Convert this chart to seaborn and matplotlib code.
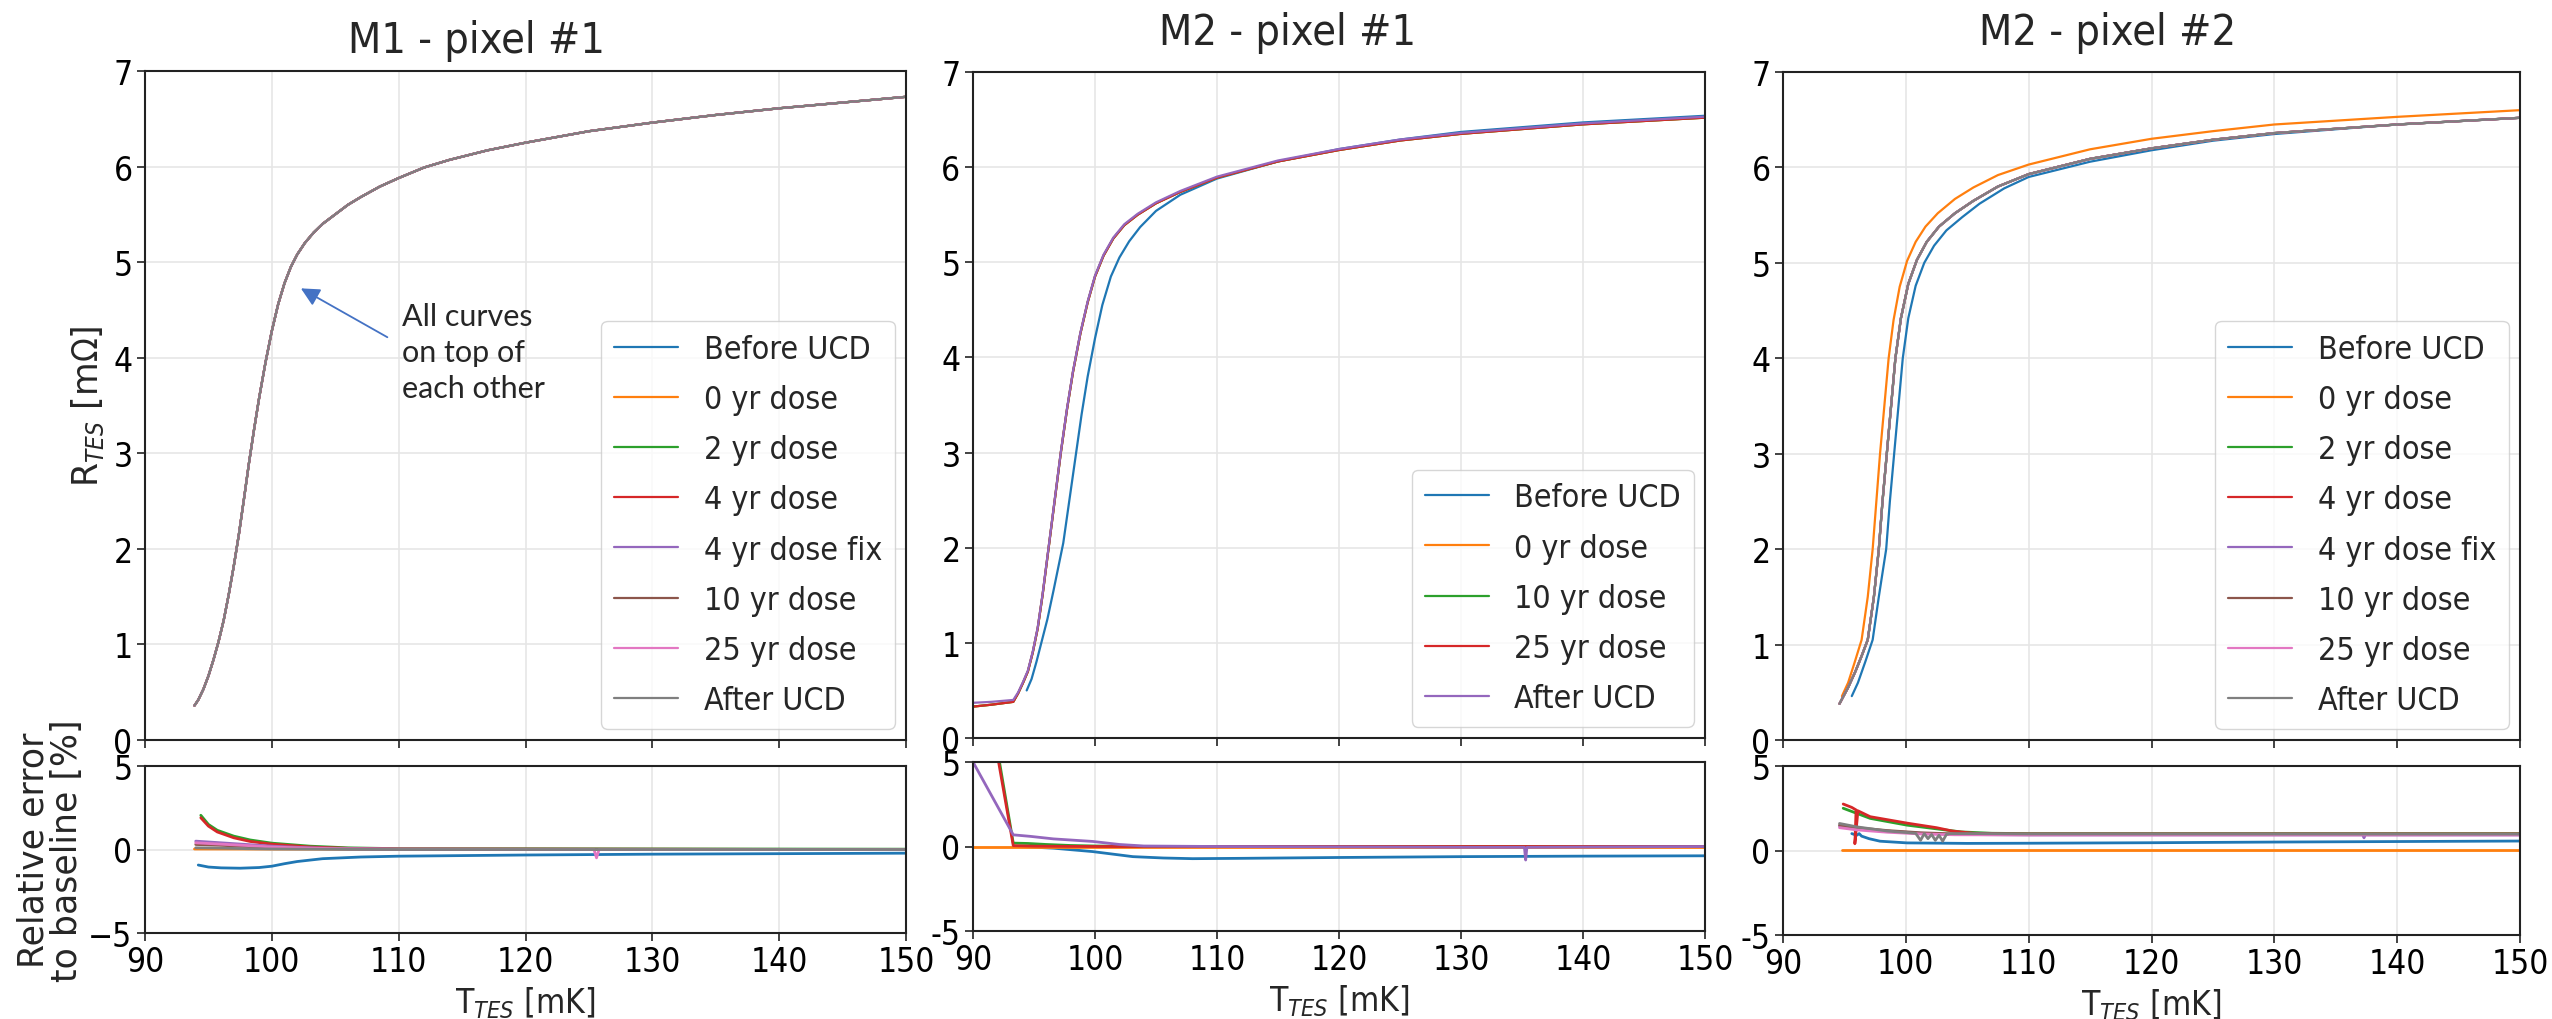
import numpy as np
import pandas as pd
import seaborn as sns
import matplotlib
matplotlib.use('Agg')
import matplotlib.pyplot as plt

sns.set_theme(style='whitegrid')
plt.rcParams['font.family'] = ['DejaVu Sans']
plt.rcParams['font.stretch'] = 'condensed'
plt.rcParams['mathtext.fontset'] = 'dejavusans'

pal = sns.color_palette('tab10')

# ---- Date: M1 - pixel #1 (toate curbele suprapuse) ----
labels_m1 = ['Before UCD', '0 yr dose', '2 yr dose', '4 yr dose', '4 yr dose fix',
             '10 yr dose', '25 yr dose', 'After UCD']
t_m1 = [93.9, 94.2, 94.6, 95.0, 95.4, 95.8, 96.2, 96.6, 97.0, 97.4, 97.8, 98.2, 98.6, 99.0,
        99.5, 100.0, 100.5, 101.0, 101.5, 102.0, 102.6, 103.3, 104.0, 105.0, 106.0, 107.0,
        108.5, 110.0, 112.0, 114.0, 117.0, 120.0, 125.0, 130.0, 135.0, 140.0, 145.0, 150.0]
r_m1 = [0.36, 0.42, 0.53, 0.67, 0.84, 1.03, 1.25, 1.52, 1.82, 2.15, 2.52, 2.90, 3.25, 3.58,
        3.95, 4.28, 4.56, 4.78, 4.95, 5.08, 5.20, 5.31, 5.40, 5.50, 5.60, 5.68,
        5.79, 5.88, 5.99, 6.07, 6.17, 6.25, 6.37, 6.46, 6.54, 6.61, 6.67, 6.73]

e1_before_t = [94.2, 95.0, 96.0, 97.5, 99.0, 100.0, 101.0, 102.0, 104.0, 107.0, 110.0, 120.0, 130.0, 140.0, 150.0]
e1_before = [-0.93, -1.05, -1.10, -1.12, -1.08, -1.00, -0.85, -0.72, -0.55, -0.45, -0.40, -0.33, -0.28, -0.25, -0.22]
e1_0yr_t = [93.9, 150.0]
e1_0yr = [0.03, 0.0]
e1_dose_t = [94.4, 95.0, 95.7, 97.0, 98.3, 100.0, 103.0, 106.0, 110.0, 150.0]
e1_2yr = [2.05, 1.50, 1.15, 0.80, 0.57, 0.38, 0.20, 0.10, 0.05, 0.02]
e1_4yr = [1.90, 1.40, 1.05, 0.70, 0.48, 0.32, 0.15, 0.07, 0.03, 0.0]
e1_small_t = [94.0, 96.0, 98.0, 100.0, 103.0, 106.0, 110.0, 150.0]
e1_4fix = [0.50, 0.40, 0.30, 0.20, 0.10, 0.05, 0.02, 0.0]
e1_10yr = [0.30, 0.25, 0.18, 0.12, 0.06, 0.03, 0.01, 0.0]
e1_25yr_t = [94.0, 96.0, 98.0, 100.0, 103.0, 106.0, 110.0, 125.4, 125.6, 125.8, 150.0]
e1_25yr = [0.40, 0.32, 0.24, 0.15, 0.08, 0.04, 0.02, 0.0, -0.5, 0.0, 0.0]
e1_after = [0.10, 0.08, 0.05, 0.03, 0.02, 0.01, 0.0, 0.0]

# ---- Date: M2 - pixel #1 ----
labels_m2a = ['Before UCD', '0 yr dose', '10 yr dose', '25 yr dose', 'After UCD']
t2_before = [94.4, 94.8, 95.2, 95.6, 96.1, 96.6, 97.0, 97.4, 97.9, 98.4, 98.9, 99.4, 100.0,
             100.6, 101.3, 102.0, 102.8, 103.7, 105.0, 107.0, 110.0, 115.0, 120.0, 125.0,
             130.0, 140.0, 150.0]
r2_before = [0.50, 0.62, 0.80, 1.00, 1.25, 1.55, 1.80, 2.05, 2.50, 2.95, 3.40, 3.80, 4.20,
             4.55, 4.85, 5.05, 5.22, 5.37, 5.54, 5.71, 5.88, 6.06, 6.19, 6.29,
             6.37, 6.47, 6.54]
t2_dose = [90.0, 91.5, 93.3, 93.7, 94.1, 94.5, 94.9, 95.3, 95.7, 96.2, 96.7, 97.2, 97.7, 98.2,
           98.8, 99.4, 100.0, 100.7, 101.5, 102.4, 103.5, 105.0, 107.0, 110.0, 115.0, 120.0,
           125.0, 130.0, 140.0, 150.0]
r2_dose = [0.33, 0.35, 0.38, 0.47, 0.58, 0.70, 0.90, 1.15, 1.50, 2.00, 2.50, 3.00, 3.45, 3.85,
           4.25, 4.58, 4.85, 5.07, 5.25, 5.39, 5.50, 5.62, 5.74, 5.89, 6.06, 6.18,
           6.28, 6.35, 6.45, 6.52]
r2_after = [0.37, 0.38, 0.40, 0.48, 0.59, 0.71, 0.91, 1.16, 1.51, 2.01, 2.51, 3.01, 3.46, 3.86,
            4.26, 4.59, 4.86, 5.08, 5.26, 5.40, 5.51, 5.63, 5.75, 5.90, 6.07, 6.19,
            6.29, 6.36, 6.46, 6.53]

e2_before_t = [93.6, 94.4, 96.6, 99.8, 103.1, 105.6, 108.0, 112.0, 120.0, 130.0, 140.0, 150.0]
e2_before = [0.0, -0.02, -0.10, -0.30, -0.60, -0.68, -0.72, -0.70, -0.65, -0.60, -0.57, -0.55]
e2_0yr_t = [90.0, 150.0]
e2_0yr = [0.0, 0.0]
e2_10yr_t = [92.1, 93.3, 94.5, 96.0, 98.0, 100.0, 105.0, 150.0]
e2_10yr = [5.3, 0.20, 0.18, 0.12, 0.06, 0.03, 0.0, 0.0]
e2_25yr_t = [92.0, 93.3, 95.0, 100.0, 150.0]
e2_25yr = [5.4, 0.05, 0.02, 0.0, 0.0]
e2_after_t = [90.0, 93.3, 94.7, 96.6, 99.8, 102.0, 104.0, 110.0, 131.0, 135.2, 135.3, 135.4, 150.0]
e2_after = [5.0, 0.69, 0.60, 0.45, 0.30, 0.12, 0.03, 0.0, -0.05, -0.05, -0.80, -0.05, 0.0]

# ---- Date: M2 - pixel #2 ----
t3_before = [95.6, 96.1, 96.7, 97.3, 97.8, 98.4, 98.7, 99.05, 99.4, 99.75, 100.2, 100.8, 101.5,
             102.3, 103.3, 104.6, 106.0, 108.0, 110.0, 115.0, 120.0, 125.0, 130.0, 140.0, 150.0]
r3_before = [0.46, 0.60, 0.82, 1.05, 1.50, 2.00, 2.50, 3.00, 3.50, 4.00, 4.42, 4.76, 5.00,
             5.18, 5.34, 5.48, 5.62, 5.78, 5.90, 6.06, 6.18, 6.28, 6.35, 6.45, 6.52]
t3_0yr = [94.8, 95.3, 95.8, 96.4, 96.9, 97.3, 97.6, 97.9, 98.25, 98.6, 99.0, 99.5, 100.1,
          100.8, 101.6, 102.6, 104.0, 105.5, 107.5, 110.0, 115.0, 120.0, 125.0, 130.0, 140.0, 150.0]
r3_0yr = [0.46, 0.60, 0.80, 1.05, 1.50, 2.00, 2.50, 3.00, 3.50, 4.00, 4.40, 4.75, 5.02,
          5.22, 5.38, 5.52, 5.67, 5.79, 5.92, 6.03, 6.19, 6.30, 6.38, 6.45, 6.53, 6.60]
t3_dose = [94.6, 95.3, 95.9, 96.4, 96.9, 97.4, 97.8, 98.1, 98.45, 98.8, 99.15, 99.6, 100.2,
           100.9, 101.7, 102.7, 104.0, 105.5, 107.5, 110.0, 115.0, 120.0, 125.0, 130.0, 140.0, 150.0]
r3_dose = [0.38, 0.55, 0.72, 0.88, 1.05, 1.50, 2.00, 2.50, 3.00, 3.50, 4.00, 4.42, 4.78,
           5.03, 5.22, 5.38, 5.52, 5.65, 5.80, 5.93, 6.09, 6.20, 6.29, 6.36, 6.45, 6.52]

e3_before_t = [95.6, 96.0, 96.2, 96.4, 97.0, 97.9, 100.1, 105.0, 110.0, 120.0, 130.0, 140.0, 150.0]
e3_before = [1.0, 0.9, 1.0, 0.85, 0.70, 0.55, 0.45, 0.42, 0.43, 0.46, 0.50, 0.53, 0.56]
e3_0yr_t = [94.8, 150.0]
e3_0yr = [0.02, 0.02]
e3_2yr_t = [94.9, 97.1, 100.1, 102.5, 104.5, 107.0, 110.0, 150.0]
e3_2yr = [2.50, 1.90, 1.50, 1.28, 1.10, 1.02, 1.00, 1.00]
e3_4yr_t = [94.9, 95.6, 95.95, 95.85, 96.1, 97.1, 100.1, 102.5, 103.8, 105.5, 108.0, 150.0]
e3_4yr = [2.75, 2.55, 2.40, 0.40, 2.35, 2.00, 1.62, 1.35, 1.15, 1.02, 0.98, 0.98]
e3_small_t = [94.6, 96.0, 98.5, 101.2, 104.0, 110.0, 150.0]
e3_4fix_t = [94.6, 96.0, 98.5, 101.2, 104.0, 110.0, 137.2, 137.3, 137.4, 150.0]
e3_4fix = [1.45, 1.30, 1.15, 1.02, 0.95, 0.92, 0.92, 0.75, 0.92, 0.92]
e3_10yr = [1.50, 1.35, 1.18, 1.05, 0.98, 0.95, 0.95]
e3_25yr = [1.35, 1.22, 1.08, 0.98, 0.93, 0.92, 0.92]
e3_after_t = [94.6, 96.0, 98.5, 100.8, 101.2, 101.5, 101.8, 102.1, 102.4, 102.7, 103.0, 103.3,
              103.6, 106.0, 110.0, 150.0]
e3_after = [1.60, 1.40, 1.15, 1.02, 0.60, 1.00, 0.70, 0.95, 0.60, 0.90, 0.55, 0.95,
            1.00, 1.00, 0.98, 0.97]

W, H = 2552, 1020
fig = plt.figure(figsize=(W / 100, H / 100), dpi=100)
fig.patch.set_facecolor('white')


def box(left, right, top, bottom):
    return [left / W, (H - bottom) / H, (right - left) / W, (bottom - top) / H]


def style(ax, ylim, yticks):
    ax.set_xlim(90, 150)
    ax.set_xticks(range(90, 151, 10))
    ax.set_ylim(*ylim)
    ax.set_yticks(yticks)
    ax.set_facecolor('white')
    ax.grid(True, color='#e6e6e6', lw=1.2)
    for s in ax.spines.values():
        s.set_color('#222222')
        s.set_linewidth(1.5)
    ax.tick_params(axis='both', labelsize=24, length=6, width=1.2, color='#222222',
                   direction='out', bottom=True, left=True, pad=3, labelcolor='black')
    ax.set_xlabel('')
    ax.set_ylabel('')


def curve(ax, x, y, color, label=None, lw=1.6):
    sns.lineplot(x=x, y=y, ax=ax, color=color, lw=lw, label=label, sort=False,
                 estimator=None, legend=label is not None)


panels = [
    dict(title='M1 - pixel #1', tx=0.435, pad=14, top=box(145, 906, 72, 741), bot=box(145, 906, 767, 934)),
    dict(title='M2 - pixel #1', tx=0.429, pad=20, top=box(973, 1705, 73, 739), bot=box(973, 1705, 763, 932)),
    dict(title='M2 - pixel #2', tx=0.441, pad=20, top=box(1783, 2520, 73, 741), bot=box(1783, 2520, 767, 936)),
]

axes = []
for p in panels:
    at = fig.add_axes(p['top'])
    ab = fig.add_axes(p['bot'])
    axes.append((at, ab))

# --- panel 1 ---
at, ab = axes[0]
for i, lab in enumerate(labels_m1):
    curve(at, t_m1, r_m1, pal[i], lab)
errs1 = [(e1_before_t, e1_before), (e1_0yr_t, e1_0yr), (e1_dose_t, e1_2yr), (e1_dose_t, e1_4yr),
         (e1_small_t, e1_4fix), (e1_small_t, e1_10yr), (e1_25yr_t, e1_25yr), (e1_small_t, e1_after)]
for i, (x, y) in enumerate(errs1):
    curve(ab, x, y, pal[i], lw=2.0)

# --- panel 2 ---
at, ab = axes[1]
tops2 = [(t2_before, r2_before), (t2_dose, r2_dose), (t2_dose, r2_dose), (t2_dose, r2_dose),
         (t2_dose, r2_after)]
for i, ((x, y), lab) in enumerate(zip(tops2, labels_m2a)):
    curve(at, x, y, pal[i], lab)
errs2 = [(e2_before_t, e2_before), (e2_0yr_t, e2_0yr), (e2_10yr_t, e2_10yr), (e2_25yr_t, e2_25yr),
         (e2_after_t, e2_after)]
for i, (x, y) in enumerate(errs2):
    curve(ab, x, y, pal[i], lw=2.0)

# --- panel 3 ---
at, ab = axes[2]
tops3 = [(t3_before, r3_before), (t3_0yr, r3_0yr)] + [(t3_dose, r3_dose)] * 6
for i, ((x, y), lab) in enumerate(zip(tops3, labels_m1)):
    curve(at, x, y, pal[i], lab)
errs3 = [(e3_before_t, e3_before), (e3_0yr_t, e3_0yr), (e3_2yr_t, e3_2yr), (e3_4yr_t, e3_4yr),
         (e3_4fix_t, e3_4fix), (e3_small_t, e3_10yr), (e3_small_t, e3_25yr), (e3_after_t, e3_after)]
for i, (x, y) in enumerate(errs3):
    curve(ab, x, y, pal[i], lw=2.0)

for k, (p, (at, ab)) in enumerate(zip(panels, axes)):
    style(at, (0, 7), range(0, 8))
    style(ab, (-5, 5), [-5, 0, 5])
    at.tick_params(labelbottom=False)
    if k > 0:
        ab.set_yticklabels(['-5', '0', '5'])
    at.set_title(p['title'], fontsize=31, x=p['tx'], pad=p['pad'])
    ab.set_xlabel(r'T$_{TES}$ [mK]', fontsize=24, labelpad=4)
    at.legend(loc='lower right', fontsize=23, borderaxespad=0.35, framealpha=0.8,
              edgecolor='0.8', fancybox=True, labelspacing=0.6)

at, ab = axes[0]
at.set_ylabel(r'R$_{TES}$ [m$\Omega$]', fontsize=25, fontstretch='normal')
at.yaxis.set_label_coords(-0.051, 0.5)
ab.set_ylabel('Relative error\nto baseline [%]', fontsize=25, fontstretch='normal', linespacing=1.0)
ab.yaxis.set_label_coords(-0.08, 0.5)

# adnotare
at.annotate('', xy=(102.1, 4.74), xytext=(109.3, 4.2),
            arrowprops=dict(arrowstyle='-|>', color='#4472C4', lw=1.3, mutation_scale=28))
at.text(110.3, 4.58, 'All curves\non top of\neach other', fontsize=22, family='Lato',
        va='top', ha='left', linespacing=1.35)

fig.savefig('out.png', dpi=100, facecolor='white')
